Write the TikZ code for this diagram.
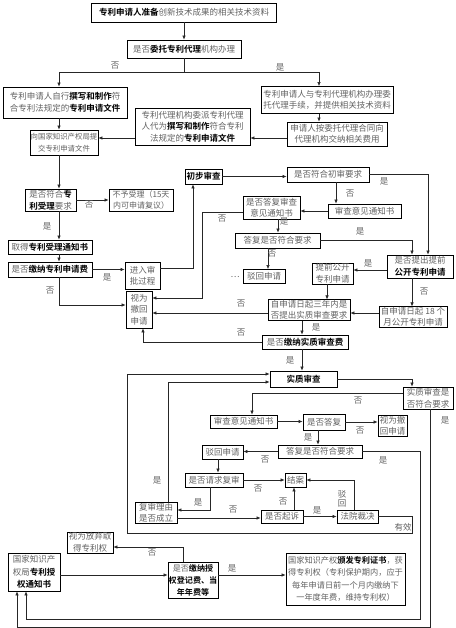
\documentclass[tikz,border=0pt]{standalone}
\usepackage{fontspec}
\setmainfont{Noto Sans CJK SC}[BoldFont={Noto Sans CJK SC Bold}]
\usetikzlibrary{arrows.meta}
\definecolor{txt}{gray}{0.38}
\newcommand{\B}[1]{\textbf{\color{black}#1}}
\tikzset{
 bx/.style={draw=black, line width=0.8pt, inner sep=0.5pt, align=center, font=\fontsize{8.5}{11.5}\selectfont, text=txt},
 ln/.style={line width=0.6pt, draw=black!85},
 ar/.style={ln, -{Latex[length=4pt,width=3.5pt]}},
 lb/.style={font=\fontsize{8.5}{9}\selectfont, text=txt, inner sep=0.5pt, align=center},
}
\begin{document}
\begin{tikzpicture}[x=1pt,y=-1pt]
\useasboundingbox (0,0) rectangle (455,628);
% guides
\foreach \v in {17,26,59,127,143,168,183,193,202,210,218,252,268,278,294,302,318,319,327,336,354,412,420,428,430}{\coordinate (X\v) at (\v,0);}
\foreach \v in {72,138,212,268,270,298,305,313,374,382,393,510,518,533,547,575,619,627}{\coordinate (Y\v) at (0,\v);}
% nodes
\node[bx,minimum width=185pt,minimum height=19pt] (n1) at (184,12.5) {\B{专利申请人准备}创新技术成果的相关技术资料};
\node[bx,minimum width=114pt,minimum height=18pt] (n2) at (184,49) {是否\B{委托专利代理}机构办理};
\node[bx,minimum width=124pt,minimum height=31pt,font=\fontsize{8.5}{12.5}\selectfont] (n3) at (65,102.5) {专利申请人自行\B{撰写和制作}符\\合专利法规定的\B{专利申请文件}};
\node[bx,minimum width=132pt,minimum height=27pt] (n4) at (327,100) {专利申请人与专利代理机构办理委\\托代理手续，并提供相关技术资料};
\node[bx,minimum width=115pt,minimum height=37pt] (n5) at (192.5,126.5) {专利代理机构委派专利代理\\人代为\B{撰写和制作}符合专利\\法规定的\B{专利申请文件}};
\node[bx,minimum width=100pt,minimum height=24pt] (n6) at (337,134) {申请人按委托代理合同向\\代理机构交纳相关费用};
\node[bx,minimum width=68pt,minimum height=25pt,font=\fontsize{7.4}{11.5}\selectfont] (n7) at (64,142.5) {向国家知识产权局提\\交专利申请文件};
\node[bx,minimum width=51pt,minimum height=22pt] (n8) at (50.5,200) {是否符合\B{专}\\\B{利受理}要求};
\node[bx,minimum width=64pt,minimum height=22pt,font=\fontsize{8}{11.5}\selectfont] (n9) at (141,200) {不予受理（15天\\内可申请复议）};
\node[bx,minimum width=84pt,minimum height=14pt] (n10) at (50,247) {取得\B{专利受理通知书}};
\node[bx,minimum width=84pt,minimum height=15pt] (n11) at (50,269.5) {是否\B{缴纳专利申请费}};
\node[bx,minimum width=35pt,minimum height=27pt] (n12) at (142.5,275.5) {进入审\\批过程};
\node[bx,minimum width=37pt,minimum height=15pt] (n13) at (203.5,176.5) {\B{初步审查}};
\node[bx,minimum width=82pt,minimum height=15pt] (n14) at (328,174.5) {是否符合初审要求};
\node[bx,minimum width=73pt,minimum height=14pt] (n15) at (364.5,211) {审查意见通知书};
\node[bx,minimum width=57pt,minimum height=23pt] (n16) at (271.5,207.5) {是否答复审查\\意见通知书};
\node[bx,minimum width=85pt,minimum height=15pt] (n17) at (277.5,240.5) {答复是否符合要求};
\node[bx,minimum width=42pt,minimum height=14pt] (n18) at (264,276.5) {驳回申请};
\node[bx,minimum width=66pt,minimum height=23pt] (n19) at (420,266.5) {是否提出提前\\\B{公开专利申请}};
\node[bx,minimum width=41pt,minimum height=21pt] (n20) at (332.5,273.5) {提前公开\\专利申请};
\node[bx,minimum width=82pt,minimum height=20pt] (n21) at (309,310) {自申请日起三年内是\\否提出实质审查要求};
\node[bx,minimum width=68pt,minimum height=20pt] (n22) at (413,317) {自申请日起 18 个\\月公开专利申请};
\node[bx,minimum width=86pt,minimum height=14pt] (n23) at (305,342) {是否\B{缴纳实质审查费}};
\node[bx,minimum width=67pt,minimum height=16pt] (n24) at (303.5,379) {\B{实质审查}};
\node[bx,minimum width=26pt,minimum height=37pt] (vw1) at (139,309.5) {视为\\撤回\\申请};
\node[bx,minimum width=50pt,minimum height=22pt] (sq) at (428,398) {实质审查是\\否符合要求};
\node[bx,minimum width=67pt,minimum height=13pt] (ro2) at (243.5,421.5) {审查意见通知书};
\node[bx,minimum width=42pt,minimum height=16pt] (dq) at (324,422) {是否答复};
\node[bx,minimum width=29pt,minimum height=21pt] (vw2) at (392.5,425.5) {视为撤\\回申请};
\node[bx,minimum width=84pt,minimum height=13pt] (rq2) at (320,451.5) {答复是否符合要求};
\node[bx,minimum width=41pt,minimum height=14pt] (rj2) at (222.5,452) {驳回申请};
\node[bx,minimum width=58pt,minimum height=14pt] (rv) at (214,480) {是否请求复审};
\node[bx,minimum width=21pt,minimum height=14pt] (ja) at (295.5,480) {结案};
\node[bx,minimum width=42pt,minimum height=20pt] (fl) at (156,513) {复审理由\\是否成立};
\node[bx,minimum width=42pt,minimum height=13pt] (qs) at (282,516.5) {是否起诉};
\node[bx,minimum width=41pt,minimum height=13pt] (fy) at (357.5,516.5) {法院裁决};
\node[bx,minimum width=52pt,minimum height=38pt,font=\fontsize{8.5}{12.5}\selectfont] (gn) at (34,572) {国家知识产\\权局\B{专利授}\\\B{权通知书}};
\node[bx,minimum width=46pt,minimum height=21pt] (fq) at (90,542.5) {视为放弃取\\得专利权};
\node[bx,minimum width=50pt,minimum height=36pt,font=\fontsize{8.1}{12}\selectfont] (pay) at (193,580) {是否\B{缴纳授}\\\B{权登记费、当}\\\B{年年费等}};
\node[bx,minimum width=119pt,minimum height=52pt,font=\fontsize{8.2}{12.5}\selectfont] (cert) at (345.5,579) {国家知识产权\B{颁发专利证书}，获\\得专利权（专利保护期内，应于\\每年申请日前一个月内缴纳下\\一年度年费，维持专利权）};
% connectors
\draw[ar] (n1) -- (n2);
\draw[ln] (n2.south) -- (n2.south |- Y72);
\draw[ar] (n2.south |- Y72) -| (n3.north -| X59);
\draw[ar] (n2.south |- Y72) -| (n4.north -| X319);
\draw[ar] (n3.south -| X59) -- (n7.north -| X59);
\draw[ar] (n4.south -| X319) -- (n6.north -| X319);
\draw[ar] (n6.west |- Y138) -- (n5.east |- Y138);
\draw[ar] (n5.west |- Y138) -- (n7.east |- Y138);
\draw[ar] (n7.south -| X59) -- (n8.north -| X59);
\draw[ar] (n8.east) -- (n9.west);
\draw[ar] (n8.south -| X59) -- (n10.north -| X59);
\draw[ar] (n10.south -| X59) -- (n11.north -| X59);
\draw[ar] (n11.east) -- (n11.east -| n12.west);
\draw[ar] (n12.east |- Y268) -| (n13.south -| X193);
\draw[ar] (n13.east) -- (n13.east -| n14.west);
\draw[ar] (n14.east) -| (n19.north -| X428);
\draw[ar] (n14.south -| X336) -- (n15.north -| X336);
\draw[ar] (n15.west) -- (n15.west -| n16.east);
\draw[ar] (n16.west |- Y212) -- (X202 |- Y212) -- (X202 |- Y298) -- (vw1.east |- Y298);
\draw[ar] (n16.south -| X278) -- (n17.north -| X278);
\draw[ar] (n17.east) -| (n19.north -| X412);
\draw[ar] (n17.south -| X268) -- (n18.north -| X268);
\draw[ar] (n19.west |- Y270) -- (n20.east |- Y270);
\draw[ar] (n19.south -| X412) -- (n22.north -| X412);
\draw[ar] (n20.south -| X327) -- (n21.north -| X327);
\draw[ar] (n22.west |- Y313) -- (n21.east |- Y313);
\draw[ar] (n21.west |- Y313) -- (vw1.east |- Y313);
\draw[ar] (n21.south -| X302) -- (n23.north -| X302);
\draw[ar] (n23.west) -| (vw1.south -| X143);
\draw[ar] (n11.south -| X59) |- (vw1.west |- Y305);
\draw[ar] (n23.south -| X302) -- (n24.north -| X302);
\draw[ar] (n24.east) -| (sq.north -| X412);
\draw[ar] (sq.west |- Y393) -| (ro2.north -| X252);
\draw[ar] (ro2.east) -- (ro2.east -| dq.west);
\draw[ar] (dq.east) -- (dq.east -| vw2.west);
\draw[ar] (dq.south -| X318) -- (rq2.north -| X318);
\draw[ar] (rq2.west) -- (rq2.west -| rj2.east);
\draw[ar] (rq2.east) -| (X420 |- Y619) -| (gn.south -| X26);
\draw[ar] (sq.south -| X430) |- (X17 |- Y627) -- (gn.south -| X17);
\draw[ar] (rj2.south -| X218) -- (rv.north -| X218);
\draw[ar] (rv.east) -- (ja.west);
\draw[ar] (rv.south -| X210) |- (fl.east |- Y510);
\draw[ar] (fl.north -| X168) |- (n24.west |- Y382);
\draw[ar] (fl.east |- Y518) -- (qs.west |- Y518);
\draw[ar] (qs.north -| X294) -- (ja.south -| X294);
\draw[ar] (qs.east) -- (fy.west);
\draw[ar] (fy.north -| X354) |- (ja.east);
\draw[ar] (fy.east) -| (X412 |- Y533) -| (X127 |- Y374) -- (n24.west |- Y374);
\draw[ar] (gn.east |- Y575) -- (pay.west |- Y575);
\draw[ar] (pay.north -| X183) |- (fq.east |- Y547);
\draw[ar] (pay.east |- Y575) -- (cert.west |- Y575);
% labels
\node[lb] (l1) at (115,66) {否};
\node[lb] (l2) at (280,67) {是};
\node[lb] (l3) at (89,205) {否};
\node[lb] (l4) at (47,226) {是};
\node[lb] (l5) at (107,277) {是};
\node[lb] (l6) at (50,291) {否};
\node[lb] (l7) at (222,219) {否};
\node[lb] (l8) at (384,181) {是};
\node[lb] (l9) at (350,194) {否};
\node[lb] (l10) at (284,221) {是};
\node[lb] (l11) at (360,231) {是};
\node[lb] (l12) at (272,254) {否};
\node[lb] (l13) at (235,277) {…};
\node[lb] (l14) at (368,263) {是};
\node[lb] (l15) at (424,292) {否};
\node[lb] (l16) at (241,304) {否};
\node[lb] (l17) at (316,327) {是};
\node[lb] (l18) at (241,333) {否};
\node[lb] (l19) at (290,360) {是};
\node[lb] (l20) at (358,401) {否};
\node[lb] (l21) at (360,431) {否};
\node[lb] (l22) at (308,437) {是};
\node[lb] (l23) at (265,460) {否};
\node[lb] (l24) at (383,460) {是};
\node[lb] (l25) at (445,420) {是};
\node[lb] (l26) at (258,489) {否};
\node[lb] (l27) at (198,502) {是};
\node[lb] (l28) at (157,480) {是};
\node[lb] (l29) at (233,510) {否};
\node[lb] (l30) at (283,502) {否};
\node[lb] (l31) at (317,510) {是};
\node[lb] (l32) at (342,499) {驳\\回};
\node[lb] (l33) at (403,527) {有效};
\node[lb] (l34) at (152,553) {否};
\node[lb] (l35) at (232,568) {是};
\end{tikzpicture}
\end{document}
